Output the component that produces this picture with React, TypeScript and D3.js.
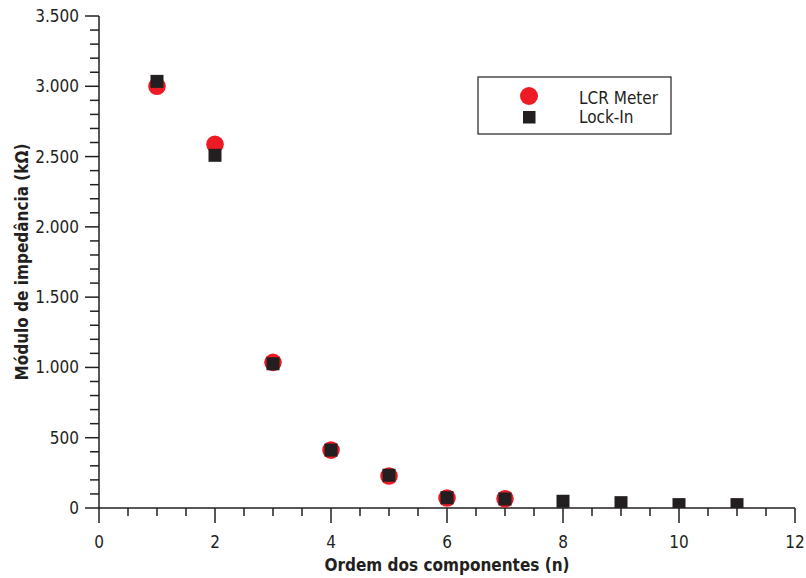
import React from "react";
import * as d3 from "d3";

const orders = [1, 2, 3, 4, 5, 6, 7, 8, 9, 10, 11];
const lcrMeter = [3000, 2587, 1036, 412, 228, 71, 66];
const lockIn = [3035, 2509, 1026, 412, 233, 73, 64, 48, 38, 24, 24];
const seriesNames = ["LCR Meter", "Lock-In"];
const xTicks = [0, 2, 4, 6, 8, 10, 12];
const yTicks = [0, 500, 1000, 1500, 2000, 2500, 3000, 3500];
const xTitle = "Ordem dos componentes (n)";
const yTitle = "Módulo de impedância (kΩ)";

const INK = "#231f20";
const RED = "#ed1c24";
const FONT = "'DejaVu Sans Condensed', 'DejaVu Sans', sans-serif";

const ptBR = d3.formatLocale({
  decimal: ",",
  thousands: ".",
  grouping: [3],
  currency: ["", ""],
});
const fmt = ptBR.format(",");

const App = () => {
  const width = 806;
  const height = 578;
  const left = 99;
  const right = 795;
  const top = 16;
  const bottom = 508;

  const xScale = d3.scaleLinear().domain([0, 12]).range([left, right]);
  const yScale = d3.scaleLinear().domain([0, 3500]).range([bottom, top]);

  const xMinor = d3.range(0, 12.01, 0.5).filter((v) => v % 2 !== 0);
  const yMinor = d3.range(0, 3501, 100).filter((v) => v % 500 !== 0);

  return (
    <svg
      width={width}
      height={height}
      style={{ position: "absolute", left: 0, top: 0 }}
      fontFamily={FONT}
      fontStretch="condensed"
    >
      <defs>
        <clipPath id="plot">
          <rect x={left - 20} y={0} width={right - left + 40} height={bottom} />
        </clipPath>
      </defs>

      {/* y axis */}
      <line x1={left} x2={left} y1={top} y2={bottom} stroke={INK} strokeWidth={1.5} />
      {yMinor.map((v) => (
        <line key={v} x1={left - 9} x2={left} y1={yScale(v)} y2={yScale(v)} stroke={INK} strokeWidth={1.5} />
      ))}
      {yTicks.map((v) => (
        <g key={v} transform={`translate(0,${yScale(v)})`}>
          <line x1={left - 14} x2={left} stroke={INK} strokeWidth={1.5} />
          <text x={79} y={6} textAnchor="end" fontSize={17} fill={INK}>
            {fmt(v)}
          </text>
        </g>
      ))}

      {/* x axis */}
      <line x1={left} x2={right} y1={bottom} y2={bottom} stroke={INK} strokeWidth={1.5} />
      {xMinor.map((v) => (
        <line key={v} x1={xScale(v)} x2={xScale(v)} y1={bottom} y2={bottom + 8} stroke={INK} strokeWidth={1.5} />
      ))}
      {xTicks.map((v) => (
        <g key={v} transform={`translate(${xScale(v)},0)`}>
          <line y1={bottom} y2={bottom + 15} stroke={INK} strokeWidth={1.5} />
          <text y={548} textAnchor="middle" fontSize={17} fill={INK}>
            {v}
          </text>
        </g>
      ))}

      {/* titles */}
      <text
        x={(left + right) / 2}
        y={571}
        textAnchor="middle"
        fontSize={17}
        fontWeight="bold"
        fill={INK}
      >
        {xTitle}
      </text>
      <text
        transform={`translate(28,${(top + bottom) / 2}) rotate(-90)`}
        textAnchor="middle"
        fontSize={17}
        fontWeight="bold"
        fill={INK}
      >
        {yTitle}
      </text>

      {/* points */}
      <g clipPath="url(#plot)">
        {lcrMeter.map((v, i) => (
          <circle key={i} cx={xScale(orders[i])} cy={yScale(v)} r={8.8} fill={RED} />
        ))}
        {lockIn.map((v, i) => (
          <rect
            key={i}
            x={xScale(orders[i]) - 6.5}
            y={yScale(v) - 6.5}
            width={13}
            height={13}
            fill={INK}
          />
        ))}
      </g>

      {/* legend */}
      <rect x={478} y={77} width={193} height={57} fill="white" stroke={INK} strokeWidth={1.2} />
      <circle cx={529} cy={96} r={9} fill={RED} />
      <rect x={523} y={111} width={12.5} height={12.5} fill={INK} />
      <text x={579} y={104} fontSize={17} fill={INK}>
        {seriesNames[0]}
      </text>
      <text x={579} y={123} fontSize={17} fill={INK}>
        {seriesNames[1]}
      </text>
    </svg>
  );
};

export default App;
